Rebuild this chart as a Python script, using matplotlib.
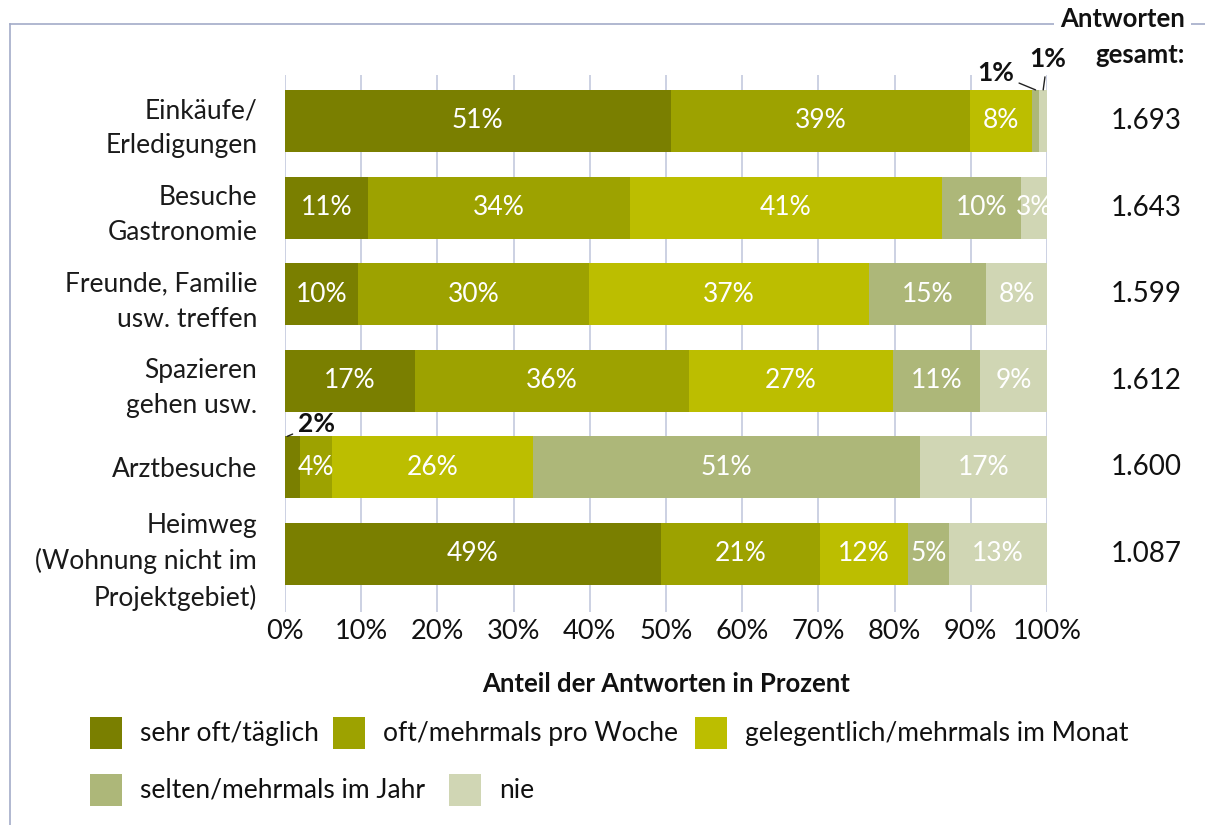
import matplotlib
matplotlib.use("Agg")
import matplotlib.pyplot as plt
from matplotlib.patches import Rectangle
from matplotlib.lines import Line2D
import matplotlib.transforms as mtransforms

plt.rcParams['font.family'] = ['Lato', 'DejaVu Sans']

categories = ["Einkäufe/\nErledigungen", "Besuche\nGastronomie", "Freunde, Familie\nusw. treffen",
              "Spazieren\ngehen usw.", "Arztbesuche", "Heimweg\n(Wohnung nicht im\nProjektgebiet)"]
series_names = ["sehr oft/täglich", "oft/mehrmals pro Woche", "gelegentlich/mehrmals im Monat",
                "selten/mehrmals im Jahr", "nie"]
sehr_oft = [50.6, 10.9, 9.6, 17.1, 2.0, 49.3]
oft = [39.3, 34.4, 30.3, 35.9, 4.2, 20.9]
gelegentlich = [8.1, 40.9, 36.7, 26.8, 26.4, 11.6]
selten = [1.0, 10.4, 15.4, 11.4, 50.7, 5.3]
nie = [1.0, 3.4, 8.0, 8.8, 16.7, 12.9]
totals = ["1.693", "1.643", "1.599", "1.612", "1.600", "1.087"]
x_ticks = [0, 10, 20, 30, 40, 50, 60, 70, 80, 90, 100]
x_title = "Anteil der Antworten in Prozent"
totals_title = ["Antworten", "gesamt:"]

series = [sehr_oft, oft, gelegentlich, selten, nie]
colors = ["#7a7f00", "#9da200", "#bcbe00", "#adb779", "#d0d6b4"]

W, H = 1205, 825
fig = plt.figure(figsize=(W / 100, H / 100), dpi=100)

def fx(px):
    return px / W

def fy(py):
    return 1 - py / H

FS = 19
ax = fig.add_axes([fx(285), fy(612), fx(1047) - fx(285), fy(75) - fy(612)])

grid_col = "#c3c9de"
n = len(categories)
ypos = list(range(n))
left = [0.0] * n
bar_h = 0.716
small_labels = {}
for si, vals in enumerate(series):
    ax.barh(ypos, vals, left=left, height=bar_h, color=colors[si], zorder=3)
    for i, v in enumerate(vals):
        lab = f"{int(v + 0.5)}%"
        cx = left[i] + v / 2
        if v < 2.5:
            small_labels[(i, si)] = (left[i], v, lab)
        else:
            ax.text(cx, i, lab, ha='center', va='center', color='white', fontsize=FS, zorder=4)
    left = [l + v for l, v in zip(left, vals)]

def leader(i, si, xoff, yoff, xfrac=0.5):
    l, v, lab = small_labels[(i, si)]
    ax.annotate(lab, xy=(l + v * xfrac, i - bar_h / 2), xytext=(xoff, yoff), textcoords='offset points',
                ha='center', va='center', fontsize=FS, color='#111111', fontweight='bold',
                arrowprops=dict(arrowstyle='-', color='#222222', lw=1.0, shrinkA=2, shrinkB=0), zorder=5,
                annotation_clip=False)

leader(0, 3, -29, 12)
leader(0, 4, 3, 22)
leader(4, 0, 21, 9, xfrac=0.15)

ax.set_xlim(0, 100)
ax.set_ylim(5.67, -0.53)
ax.set_xticks(x_ticks)
ax.set_xticklabels([f"{t}%" for t in x_ticks], fontsize=FS + 0.5, color='#111111')
ax.set_yticks(ypos)
ax.set_yticklabels(categories, fontsize=FS, color='#1a1a1a', linespacing=1.5)
ax.tick_params(axis='both', length=0)
ax.tick_params(axis='y', pad=20)
ax.tick_params(axis='x', pad=5)
for s in ax.spines.values():
    s.set_visible(False)
for t in x_ticks:
    ax.axvline(t, color=grid_col, lw=1.2, zorder=1)
ax.set_xlabel(x_title, fontsize=FS - 0.5, fontweight='bold', color='#111111', labelpad=20)

trans = mtransforms.blended_transform_factory(fig.transFigure, ax.transData)
for i, t in enumerate(totals):
    ax.text(fx(1182), i, t, transform=trans, ha='right', va='center', fontsize=FS + 1, color='#111111')

frame_col = "#a3acc8"
fig.add_artist(Line2D([fx(10), fx(1210)], [fy(24), fy(24)], transform=fig.transFigure, color=frame_col, lw=1.2))
fig.add_artist(Line2D([fx(10), fx(10)], [fy(24), fy(830)], transform=fig.transFigure, color=frame_col, lw=1.2))
fig.text(fx(1185), fy(19), totals_title[0], ha='right', va='center', fontsize=FS - 0.5, fontweight='bold',
         color='#111111', bbox=dict(facecolor='white', edgecolor='none', pad=4))
fig.text(fx(1185), fy(55), totals_title[1], ha='right', va='center', fontsize=FS - 0.5, fontweight='bold',
         color='#111111')

leg_pos = [(90, 733), (333, 733), (695, 733), (90, 790), (449, 790)]
sq = 32
for k, (px, py) in enumerate(leg_pos):
    fig.add_artist(Rectangle((fx(px), fy(py + sq / 2)), sq / W, sq / H, transform=fig.transFigure,
                             facecolor=colors[k], edgecolor='none'))
    fig.text(fx(px + 50), fy(py), series_names[k], ha='left', va='center', fontsize=FS, color='#111111')

fig.savefig("out.png", dpi=100)
